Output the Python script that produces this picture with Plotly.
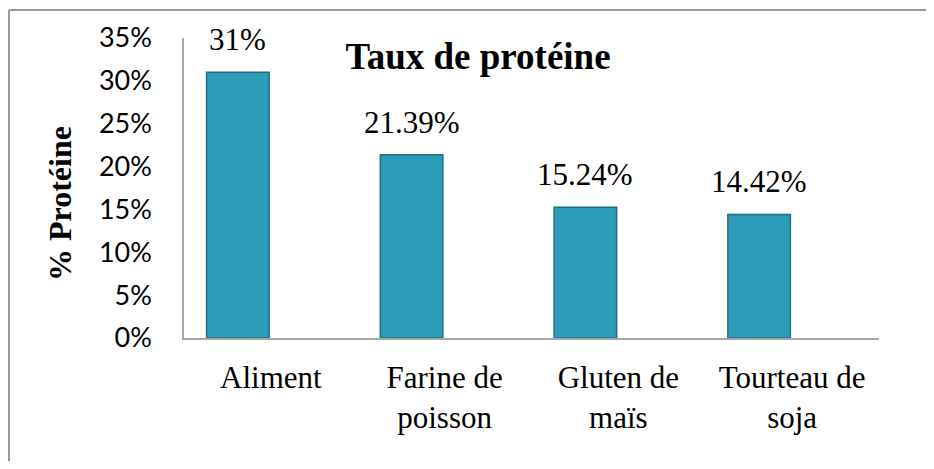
import plotly.graph_objects as go

categories = ["Aliment", "Farine de<br>poisson", "Gluten de<br>maïs", "Tourteau de<br>soja"]
proteine = [0.31, 0.2139, 0.1524, 0.1442]
value_labels = ["31%", "21.39%", "15.24%", "14.42%"]
y_ticks = [0, 0.05, 0.10, 0.15, 0.20, 0.25, 0.30, 0.35]
y_tick_labels = ["0%", "5%", "10%", "15%", "20%", "25%", "30%", "35%"]

W, H = 918, 453
L, R, T, B = 176, 47, 30, 123
pw = W - L - R
ph = H - T - B


def px(x):
    return (x - L) / pw


def py(y):
    return (H - B - y) / ph


fig = go.Figure()
fig.add_trace(go.Bar(
    x=categories, y=proteine, width=0.36, offset=-0.37,
    marker=dict(color="#2D9CB9", line=dict(color="#1C6E85", width=1.5)),
    hoverinfo="skip",
))

for c, v, t in zip(categories, proteine, value_labels):
    fig.add_annotation(x=c, y=v, text=t, showarrow=False, yanchor="bottom", yshift=13,
                       xshift=-33,
                       font=dict(family="Liberation Serif", size=31, color="#000"))

fig.add_annotation(x=px(52), y=py(196), xref="paper", yref="paper", text="<b>% Protéine</b>",
                   textangle=-90, showarrow=False, xanchor="center", yanchor="middle",
                   font=dict(family="Liberation Serif", size=32, color="#000"))

fig.add_shape(type="line", xref="paper", yref="paper",
              x0=px(1), x1=px(1), y0=py(2), y1=py(H),
              line=dict(color="#999999", width=2))
fig.add_shape(type="line", xref="paper", yref="paper",
              x0=px(1), x1=px(W), y0=py(2), y1=py(2),
              line=dict(color="#999999", width=2))

fig.update_layout(
    width=W, height=H,
    margin=dict(l=L, r=R, t=T, b=B, autoexpand=False),
    paper_bgcolor="white", plot_bgcolor="white",
    showlegend=False,
    title=dict(text="<b>Taux de protéine</b>", x=px(470), xref="paper", xanchor="center",
               y=1 - 48 / H, yref="container", yanchor="middle",
               font=dict(family="Liberation Serif", size=37, color="#000")),
    xaxis=dict(showline=True, linecolor="#A6A6A6", linewidth=1.5, ticks="", showgrid=False,
               tickfont=dict(family="Liberation Serif", size=31, color="#000"),
               ticklabelstandoff=11),
    yaxis=dict(range=[0, 0.35], tickvals=y_ticks, ticktext=y_tick_labels,
               showline=True, linecolor="#A6A6A6", linewidth=1.5, ticks="", showgrid=False,
               zeroline=False,
               tickfont=dict(family="Lato", size=27, color="#000"),
               ticklabelstandoff=25),
)

fig.write_html("out.html")
